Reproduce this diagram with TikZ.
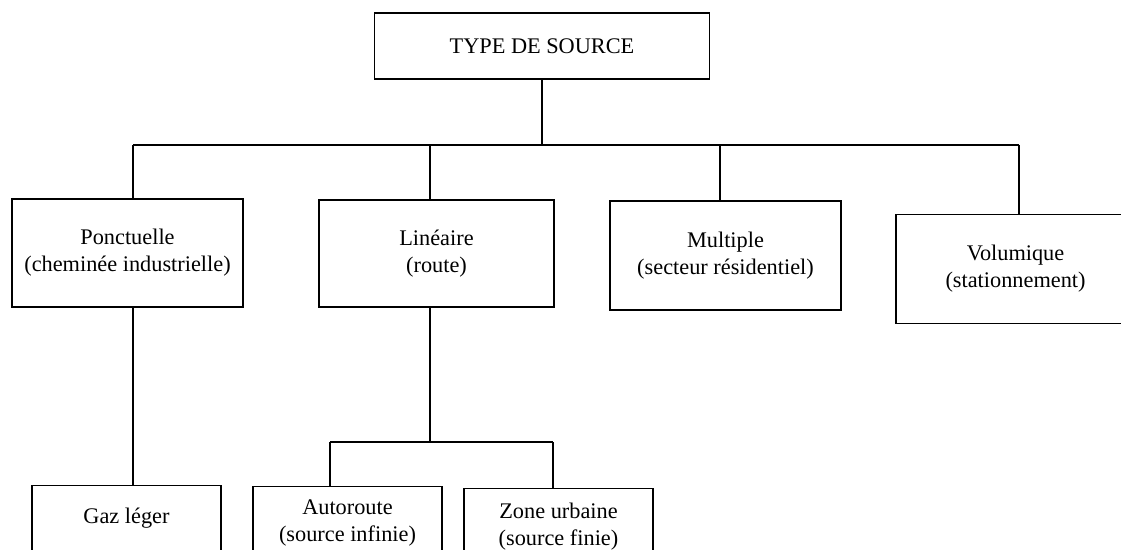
\documentclass[tikz,border=0pt]{standalone}
\usepackage{fontspec}
\setmainfont{Liberation Serif}
\tikzset{
  box/.style={draw, line width=0.8pt, align=center, inner sep=0pt, font=\fontsize{12.7}{15.3}\selectfont},
  cutbox/.style={box, anchor=north, minimum width=3.78cm, text depth=2cm},
}
\begin{document}
\begin{tikzpicture}[x=0.02cm, y=-0.02cm, line width=0.8pt]
			\clip (0,0) rectangle (1121,550);
			% boxes
			\node[box, minimum width=6.70cm, minimum height=1.32cm] (src) at (542,46)  {TYPE DE SOURCE};
			\node[box, minimum width=4.62cm, minimum height=2.16cm] (pct) at (127.5,253)  {Ponctuelle\\(cheminée industrielle)};
			\node[box, minimum width=4.70cm, minimum height=2.14cm] (lin) at (436.5,253.5) {Linéaire\\(route)};
			\node[box, minimum width=4.62cm, minimum height=2.18cm] (mul) at (725.5,255.5) {Multiple\\(secteur résidentiel)};
			\node[box, minimum width=4.78cm, minimum height=2.18cm] (vol) at (1015.5,269) {Volumique\\(stationnement)};
			\node[cutbox, inner ysep=12.5pt] (gaz)  at (126.5,485) {Gaz léger};
			\node[cutbox, inner ysep=7.5pt]  (auto) at (347.5,486) {Autoroute\\(source infinie)};
			\node[cutbox, inner ysep=8pt]  (zone) at (558.5,488) {Zone urbaine\\(source finie)};
			%
			\coordinate (b1) at (133,145);
			\coordinate (b2) at (430,145);
			\coordinate (b3) at (720,145);
			\coordinate (b4) at (1019,145);
			\coordinate (c0) at (430,442);
			\coordinate (c1) at (330,442);
			\coordinate (c2) at (553,442);
			%
			\draw (src.south) -- (src.south |- b1);
			\draw (b1) -- (b4);
			\foreach \b/\n in {b1/pct, b2/lin, b3/mul, b4/vol}
			{	\draw (\b) -- (\b |- \n.north);
			}
			\draw (b1 |- pct.south) -- (b1 |- gaz.north);
			\draw (b2 |- lin.south) -- (c0);
			\draw (c1) -- (c2);
			\foreach \c/\n in {c1/auto, c2/zone}
			{	\draw (\c) -- (\c |- \n.north);
			}
			%
\end{tikzpicture}
\end{document}
